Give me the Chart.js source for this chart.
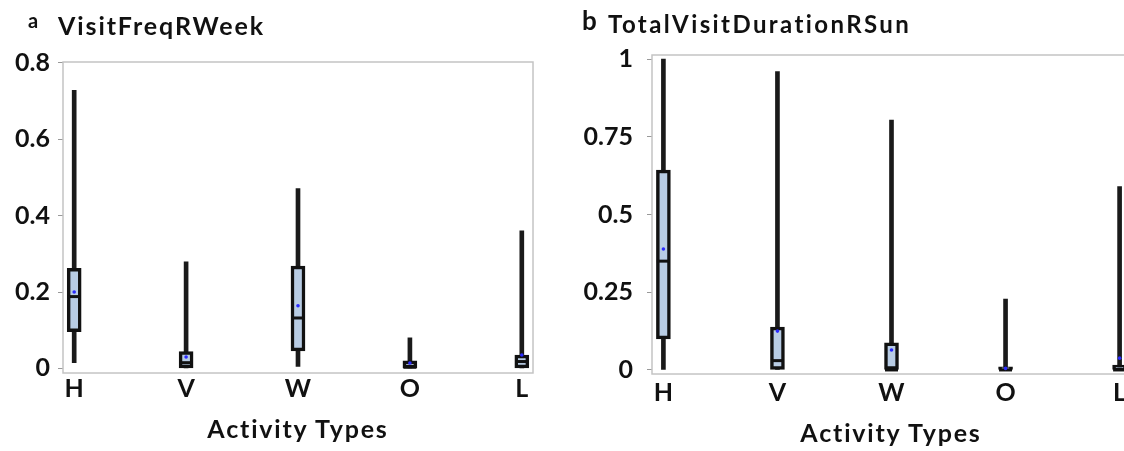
<!DOCTYPE html>
<html>
<head>
<meta charset="utf-8">
<script src="https://cdn.jsdelivr.net/npm/chart.js@4"></script>
<style>
    body { margin: 0; width: 1124px; height: 451px; overflow: hidden; position: relative; background: #fff; }
    canvas { position: absolute; top: 0; }
    .txt { position: absolute; font-family: Lato, sans-serif; font-weight: bold; color: #111; line-height: 1; white-space: nowrap; }
    .axisTitle { font-size: 25px; letter-spacing: 1.8px; transform: translateX(-50%); }
</style>
</head>
<body>
<canvas id="chartA" width="560" height="451" style="left:0"></canvas>
<canvas id="chartB" width="600" height="451" style="left:560px"></canvas>

<div class="txt" style="left:28px; top:10px; font-size:20px">a</div>
<div class="txt" style="left:58px; top:13px; font-size:25px; letter-spacing:1.9px">VisitFreqRWeek</div>
<div class="txt" style="left:582px; top:7px; font-size:26px">b</div>
<div class="txt" style="left:608px; top:12px; font-size:24px; letter-spacing:2.4px">TotalVisitDurationRSun</div>
<div class="txt axisTitle" style="left:298px; top:416px">Activity Types</div>
<div class="txt axisTitle" style="left:891px; top:420px">Activity Types</div>

<script>
const categories = ['H', 'V', 'W', 'O', 'L'];

// a: VisitFreqRWeek
const freqLow = [0.015, 0, 0.005, 0, 0];
const freqQ1 = [0.096, 0, 0.046, 0, 0];
const freqMedian = [0.188, 0.015, 0.132, 0.003, 0.018];
const freqQ3 = [0.262, 0.044, 0.268, 0.02, 0.035];
const freqHigh = [0.728, 0.279, 0.471, 0.08, 0.36];
const freqMean = [0.2, 0.03, 0.164, 0.014, 0.035];
const freqTicks = [0, 0.2, 0.4, 0.6, 0.8];

// b: TotalVisitDurationRSun
const durLow = [0, 0, 0, 0, 0];
const durQ1 = [0.1, 0, 0, 0, 0];
const durMedian = [0.35, 0.03, 0, 0, 0];
const durQ3 = [0.643, 0.138, 0.087, 0.01, 0.016];
const durHigh = [1.0, 0.96, 0.804, 0.228, 0.59];
const durMean = [0.389, 0.125, 0.064, 0.005, 0.038];
const durTicks = [0, 0.25, 0.5, 0.75, 1];

const tickFont = { family: 'Lato', weight: 'bold', size: 25 };

const framePlugin = {
    id: 'frame',
    beforeDatasetsDraw(chart) {
        const a = chart.chartArea;
        const ctx = chart.ctx;
        ctx.save();
        ctx.strokeStyle = '#c4c4c4';
        ctx.lineWidth = 1.5;
        ctx.strokeRect(a.left, a.top, a.right - a.left, a.bottom - a.top);
        ctx.restore();
    }
};

function pairs(lo, hi) {
    return categories.map((c, i) => ({ x: i, y: [lo[i], hi[i]] }));
}

function points(vals) {
    return categories.map((c, i) => ({ x: i, y: vals[i] }));
}

function makeBoxChart(id, d) {
    const ctx = document.getElementById(id).getContext('2d');
    return new Chart(ctx, {
        type: 'bar',
        data: {
            datasets: [
                {
                    type: 'scatter',
                    data: points(d.mean),
                    pointStyle: 'circle',
                    pointRadius: 1.8,
                    pointBackgroundColor: '#2a2aff',
                    pointBorderWidth: 0,
                    order: 0
                },
                {
                    type: 'scatter',
                    data: points(d.median),
                    pointStyle: 'line',
                    pointRadius: 6.5,
                    pointBorderColor: '#111',
                    pointBorderWidth: 3,
                    order: 1
                },
                {
                    data: pairs(d.q1, d.q3),
                    backgroundColor: '#b8cce4',
                    borderColor: '#111',
                    borderWidth: 3.5,
                    borderSkipped: false,
                    barThickness: 14,
                    grouped: false,
                    order: 2
                },
                {
                    data: pairs(d.low, d.high),
                    backgroundColor: '#1a1a1a',
                    borderWidth: 0,
                    barThickness: 4,
                    grouped: false,
                    order: 3
                }
            ]
        },
        options: {
            responsive: false,
            animation: false,
            events: [],
            layout: { padding: d.padding },
            plugins: { legend: { display: false }, tooltip: { enabled: false } },
            scales: {
                x: {
                    type: 'linear',
                    offset: false,
                    min: -0.1,
                    max: 4.1,
                    grid: { display: false },
                    border: { display: false },
                    afterBuildTicks: function(scale) {
                        scale.ticks = categories.map((c, i) => ({ value: i }));
                    },
                    afterFit: function(scale) { scale.height = 40; },
                    ticks: {
                        color: '#111',
                        font: tickFont,
                        padding: d.xPad,
                        maxRotation: 0,
                        callback: function(value) { return categories[value]; }
                    }
                },
                y: {
                    min: d.yMin,
                    max: d.yMax,
                    grid: { drawOnChartArea: false, drawTicks: true, tickLength: 5, color: '#999' },
                    border: { display: false },
                    afterBuildTicks: function(scale) {
                        scale.ticks = d.ticks.map(v => ({ value: v }));
                    },
                    afterFit: function(scale) { scale.width = d.yWidth; },
                    ticks: {
                        color: '#111',
                        font: tickFont,
                        padding: d.yPad,
                        callback: function(value) { return String(value); }
                    }
                }
            }
        },
        plugins: [framePlugin]
    });
}

document.addEventListener('DOMContentLoaded', function() {
    makeBoxChart('chartA', {
        low: freqLow, q1: freqQ1, median: freqMedian, q3: freqQ3, high: freqHigh, mean: freqMean,
        ticks: freqTicks, yMin: -0.012, yMax: 0.802,
        padding: { left: 0, top: 62, right: 27, bottom: 38 },
        yWidth: 63, yPad: 8, xPad: -7
    });
    makeBoxChart('chartB', {
        low: durLow, q1: durQ1, median: durMedian, q3: durQ3, high: durHigh, mean: durMean,
        ticks: durTicks, yMin: -0.013, yMax: 1.013,
        padding: { left: 0, top: 55, right: 29, bottom: 37 },
        yWidth: 92, yPad: 14, xPad: -4
    });
});
</script>
</body>
</html>
